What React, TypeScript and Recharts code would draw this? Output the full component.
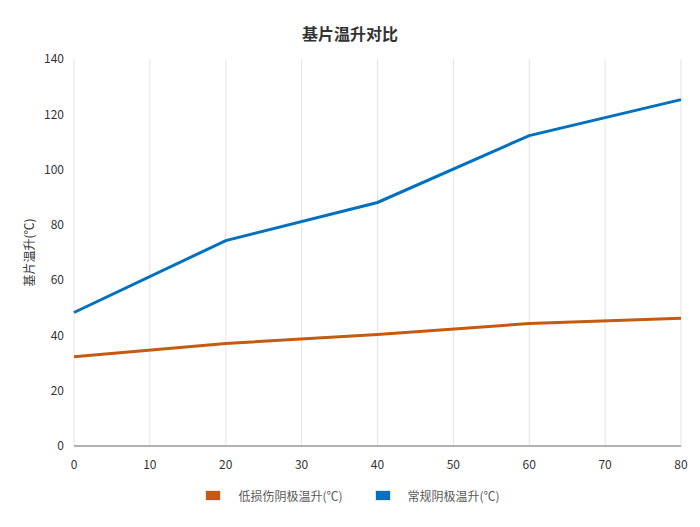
import React from "react";
import { LineChart, Line, XAxis, YAxis, CartesianGrid, Legend, Label } from "recharts";

const xValues = [0, 20, 40, 60, 80];
const lowDamage = [32.3, 37.1, 40.3, 44.3, 46.2];
const normal = [48.3, 74.3, 88.1, 112.3, 125.3];
const xTicks = [0, 10, 20, 30, 40, 50, 60, 70, 80];
const yTicks = [0, 20, 40, 60, 80, 100, 120, 140];

const seriesNames = ["低损伤阴极温升(℃)", "常规阴极温升(℃)"];
const seriesColors = ["#C55A11", "#0070C0"];

const data = xValues.map((x, i) => ({ x, low: lowDamage[i], normal: normal[i] }));

const FONT = "'Noto Sans CJK SC', 'Noto Sans', sans-serif";

function LegendContent() {
  return (
    <div style={{ display: "flex", justifyContent: "center", gap: 32, paddingTop: 11, paddingLeft: 24, fontFamily: FONT, fontSize: 12, color: "#595959" }}>
      {seriesNames.map((name, i) => (
        <div key={name} style={{ display: "flex", alignItems: "center" }}>
          <span style={{ width: 14, height: 9, background: seriesColors[i], border: "1px solid #e6e6e6", marginRight: 17 }} />
          <span>{name}</span>
        </div>
      ))}
    </div>
  );
}

export default function App() {
  return (
    <div style={{ position: "absolute", left: 0, top: 0, width: 700, height: 527, background: "#fff", fontFamily: FONT }}>
      <div style={{ position: "absolute", top: 21, width: 700, textAlign: "center", fontSize: 16, fontWeight: "bold", color: "#333" }}>
        基片温升对比
      </div>
      <LineChart width={700} height={527} data={data} margin={{ top: 59, right: 19, bottom: 20, left: 0 }}>
        <CartesianGrid vertical horizontal={false} stroke="#e3e3e3" />
        <XAxis
          dataKey="x"
          type="number"
          domain={[0, 80]}
          ticks={xTicks}
          tickLine={false}
          tickMargin={8}
          stroke="#999"
          strokeWidth={1.5}
          tick={{ fill: "#333", fontSize: 12 }}
          height={30}
        />
        <YAxis
          type="number"
          domain={[0, 140]}
          ticks={yTicks}
          axisLine={false}
          tickLine={false}
          tickMargin={4}
          width={74}
          tick={{ fill: "#333", fontSize: 12 }}
        >
          <Label value="基片温升(℃)" angle={-90} position="insideLeft" offset={30} style={{ fill: "#333", fontSize: 12, textAnchor: "middle" }} />
        </YAxis>
        <Legend verticalAlign="bottom" height={31} content={<LegendContent />} />
        <Line dataKey="low" name={seriesNames[0]} stroke={seriesColors[0]} strokeWidth={3} dot={false} isAnimationActive={false} />
        <Line dataKey="normal" name={seriesNames[1]} stroke={seriesColors[1]} strokeWidth={3} dot={false} isAnimationActive={false} />
      </LineChart>
    </div>
  );
}
